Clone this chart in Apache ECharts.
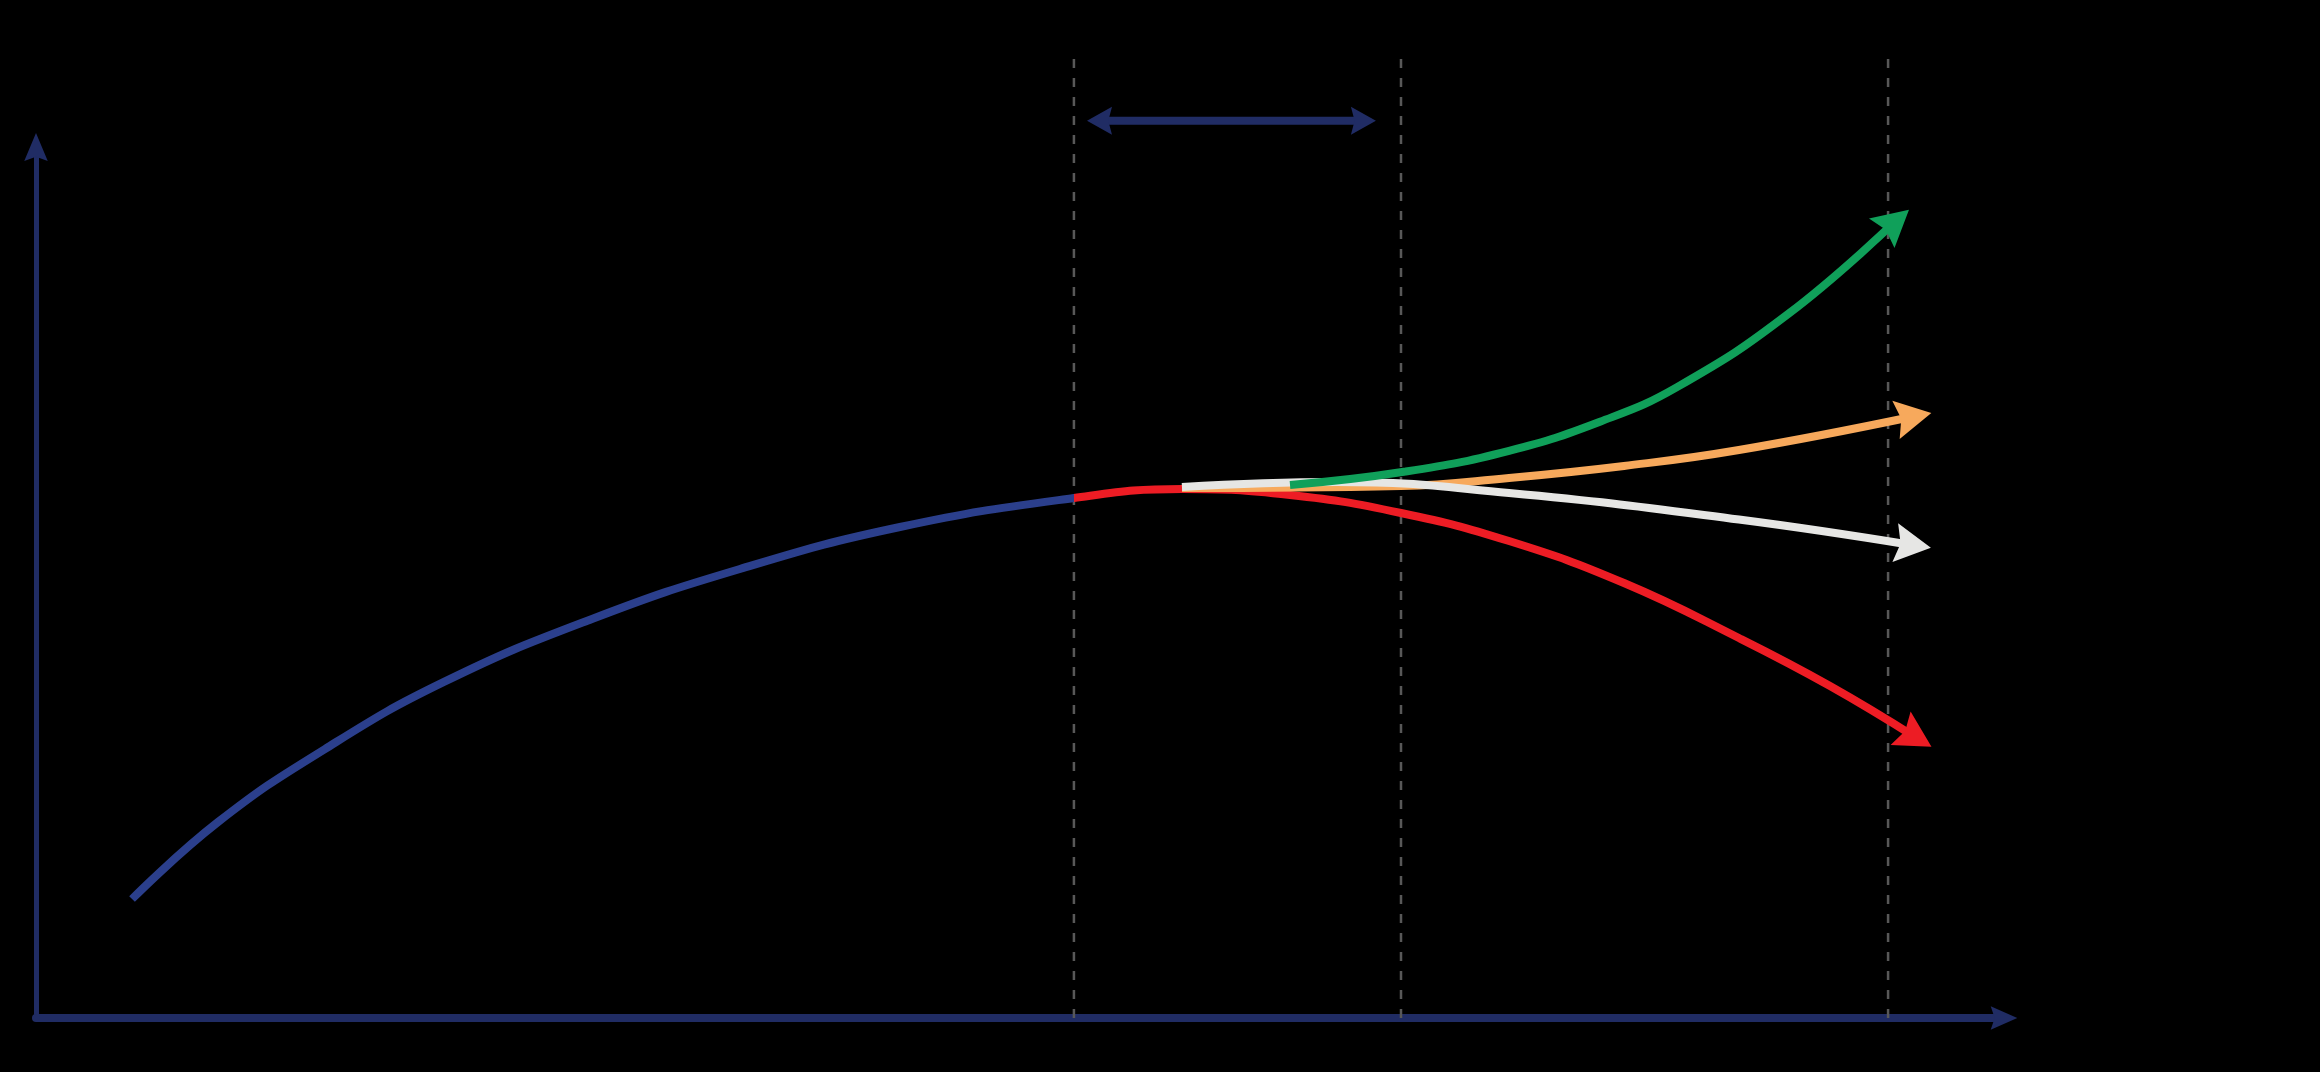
<!DOCTYPE html>
<html>
<head>
<meta charset="utf-8">
<script src="https://cdn.jsdelivr.net/npm/echarts@6/dist/echarts.min.js"></script>
<style>
html,body{margin:0;padding:0;background:#000;}
#chart{width:2320px;height:1072px;background:#000;}
</style>
</head>
<body>
<div id="chart"></div>
<script>
// ---- data (abstract units: x 0..100 time, y 0..100 level) ----
// history (x <= todayX) continues into the decline scenario in one path
const history = [[4.88,13.66],[9.25,22.50],[14.68,30.88],[20.73,38.58],[28.25,45.81],[35.77,51.55],[43.90,56.37],[52.74,59.70]];
const scenarioDecline = [[58.23,60.73],[63.72,60.05],[69.36,57.98],[74.85,54.76],[80.69,49.94],[86.53,43.63],[91.16,38.12],[95.53,32.20]];
const scenarioFlat = [[58.23,60.96],[66.11,61.54],[74.85,60.28],[86.53,57.23],[95.38,54.28]];
const scenarioModerate = [[58.23,60.85],[69.36,61.08],[74.85,62.00],[80.69,63.38],[86.53,65.21],[95.41,69.06]];
const scenarioGrowth = [[63.72,61.19],[69.51,62.71],[74.85,65.12],[79.47,68.46],[83.43,72.49],[89.08,80.91],[94.48,91.45]];
const todayX = 52.74;
const guideX = [52.74, 69.36, 94.11];
const guideTop = 110.2;
const spanY = 103;
const spanFrom = 54.04;
const spanTo = 67.45;

// ---- styles ----
const NAVY = '#202c64';
const BLUE = '#2b3f8c';
const RED = '#ed1c24';
const ARROW_CURVE = 'path://M19.5,0 L39,36 L19.5,30.6 L0,36 Z';
const ARROW_X = 'path://M11.7,0 L23.4,26.6 L11.7,22.6 L0,26.6 Z';
const ARROW_Y = 'path://M11.75,0 L23.5,28 L11.75,23.8 L0,28 Z';
const ARROW_SPAN = 'path://M14,0 L28,25 L14,21.3 L0,25 Z';

const chart = echarts.init(document.getElementById('chart'), null, {renderer: 'canvas'});

function curve(name, pts, color, width, z, withArrow) {
  return {
    name: name, type: 'line', z: z, silent: true, clip: false,
    smooth: 0.45,
    symbol: 'none', showSymbol: true,
    lineStyle: {color: color, width: width, cap: 'butt', join: 'round'},
    itemStyle: {color: color},
    data: pts.map((p, i) => (withArrow && i === pts.length - 1)
      ? {value: p, symbol: ARROW_CURVE, symbolSize: [39, 36], symbolRotate: 0, itemStyle: {color: color}}
      : {value: p})
  };
}

const series = [];
guideX.forEach((gx, i) => {
  series.push({
    name: 'guide' + i, type: 'line', z: 1, silent: true, clip: false,
    symbol: 'none',
    lineStyle: {color: '#585858', width: 2.5, type: [9, 10]},
    data: [[gx, 0], [gx, guideTop]]
  });
});
series.push({
  name: 'span', type: 'line', z: 3, silent: true, clip: false,
  symbol: 'none', showSymbol: true,
  lineStyle: {color: NAVY, width: 8, cap: 'butt'},
  itemStyle: {color: NAVY},
  data: [
    {value: [spanFrom, spanY], symbol: ARROW_SPAN, symbolSize: [28, 25], symbolRotate: 0, itemStyle: {color: NAVY}},
    {value: [spanTo, spanY], symbol: ARROW_SPAN, symbolSize: [28, 25], symbolRotate: 0, itemStyle: {color: NAVY}}
  ]
});
const mainSeries = curve('history-decline', history.concat(scenarioDecline), RED, 8, 5, true);
series.push(mainSeries);
series.push(curve('moderate', scenarioModerate, '#f7a95c', 8, 6, true));
series.push(curve('flat', scenarioFlat, '#e6e6e4', 8, 7, true));
series.push(curve('growth', scenarioGrowth, '#10a05a', 8, 8, true));

const option = {
  backgroundColor: '#000000',
  animation: false,
  grid: {left: 36, right: 316, top: 147, bottom: 54, show: false, outerBoundsMode: 'none', containLabel: false},
  xAxis: {
    type: 'value', min: 0, max: 100,
    axisLine: {show: true, onZero: false, lineStyle: {color: NAVY, width: 8}, symbol: ['none', ARROW_X], symbolSize: [23.4, 26.6]},
    axisTick: {show: false}, axisLabel: {show: false}, splitLine: {show: false}
  },
  yAxis: {
    type: 'value', min: 0, max: 100,
    axisLine: {show: true, onZero: false, lineStyle: {color: NAVY, width: 5}, symbol: ['none', ARROW_Y], symbolSize: [23.5, 28]},
    axisTick: {show: false}, axisLabel: {show: false}, splitLine: {show: false}
  },
  series: series
};
chart.setOption(option);

function px(pt) { return chart.convertToPixel({gridIndex: 0}, pt); }
// orient arrowheads along the direction of the last segment
function rotFrom(a, b) {
  const p = px(a), q = px(b);
  const ang = Math.atan2(-(q[1] - p[1]), q[0] - p[0]) * 180 / Math.PI;
  return ang - 90;
}
option.series.forEach(s => {
  if (s.name === 'span') {
    const a = s.data[0].value, b = s.data[1].value;
    s.data[0].symbolRotate = rotFrom(b, a);
    s.data[1].symbolRotate = rotFrom(a, b);
  } else if (s.data && s.data.length && s.data[s.data.length - 1].symbol) {
    const n = s.data.length;
    s.data[n - 1].symbolRotate = rotFrom(s.data[n - 2].value, s.data[n - 1].value);
  }
});
// blue before "today", red after: hard-stop gradient along x
const x0 = px([history[0][0], 0])[0];
const x1 = px([scenarioDecline[scenarioDecline.length - 1][0], 0])[0];
const xt = px([todayX, 0])[0];
const off = (xt - x0) / (x1 - x0);
mainSeries.lineStyle.color = {
  type: 'linear', x: x0, y: 0, x2: x1, y2: 0, global: true,
  colorStops: [{offset: 0, color: BLUE}, {offset: off, color: BLUE}, {offset: off, color: RED}, {offset: 1, color: RED}]
};
chart.setOption(option);
</script>
</body>
</html>
